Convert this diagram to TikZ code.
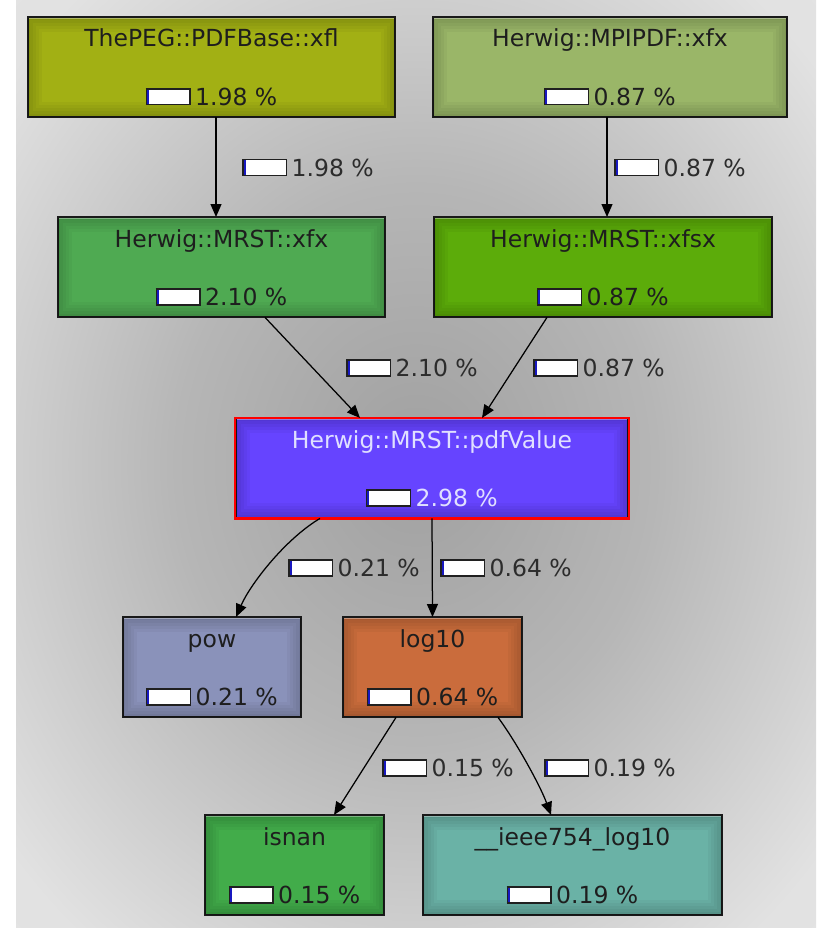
\documentclass[tikz,border=0pt]{standalone}
\usepackage{fontspec}
\setmainfont{DejaVu Sans}
\usetikzlibrary{arrows.meta}
\definecolor{bgin}{HTML}{A0A0A0}
\definecolor{bgmid}{HTML}{B6B6B6}
\definecolor{bgout}{HTML}{E2E2E2}
\definecolor{bgfar}{HTML}{E6E6E6}
\definecolor{barline}{HTML}{202020}
\definecolor{barblue}{HTML}{1818C0}
\definecolor{txt}{HTML}{1E1E1E}
\definecolor{ltxt}{HTML}{2C2C2C}
\definecolor{cxfl}{HTML}{A2B014}
\definecolor{cmpi}{HTML}{9AB668}
\definecolor{cmxfx}{HTML}{4FAA52}
\definecolor{cxfsx}{HTML}{5CAC0A}
\definecolor{cpdf}{HTML}{6644FF}
\definecolor{cpow}{HTML}{8A92BA}
\definecolor{clog}{HTML}{CA6C3C}
\definecolor{cisnan}{HTML}{42AC4A}
\definecolor{cieee}{HTML}{6AB2A6}
\pgfdeclareradialshading{bgshade}{\pgfpoint{0bp}{0bp}}{color(0bp)=(bgin); color(15bp)=(bgmid); color(33bp)=(bgout); color(50bp)=(bgfar)}
\newcommand\pbar{\raisebox{1.3pt}{\setlength\fboxsep{0pt}\setlength\fboxrule{1.3pt}\fcolorbox{barline}{white}{\textcolor{barblue}{\rule{2pt}{14.5pt}}\hspace{40.4pt}}}}
\tikzset{
  fbox/.style={rectangle, draw=black!90, line width=1.4pt, minimum height=99pt, inner sep=0pt},
  ftext/.style={inner sep=0pt, font=\fontsize{23.5}{28}\selectfont, text height=17pt, text depth=5pt, text=txt},
  ltext/.style={ftext, anchor=west, text=ltxt},
  edge/.style={draw=black, line width=1.25pt, -{Triangle[length=13pt,width=11pt]}}
}
% #1 name, #2 cx, #3 top, #4 width, #5 fill, #6 text color, #7 title, #8 pct, #9 border
\newcommand\fnode[9]{%
  \node[fbox, fill=#5, minimum width=#4pt, anchor=north] (#1) at (#2,#3) {};
  \begin{scope}
    \clip (#1.north west) rectangle (#1.south east);
    \foreach \w in {6,12,18,24,30}
      \draw[black, opacity=0.035, line width=\w pt] (#1.north west) rectangle (#1.south east);
    \draw[white, line width=1pt, opacity=0.35]
      ([xshift=1.5pt,yshift=-1.5pt]#1.north west) -- ([xshift=-1.5pt,yshift=-1.5pt]#1.north east);
  \end{scope}
  \draw[#9] (#1.north west) rectangle (#1.south east);
  \node[ftext, text=#6] (#1-t) at (#2,#3+24) {#7};
  \node[ftext, text=#6] (#1-p) at (#2,#3+82.5) {\pbar\hspace{4.5pt}#8 \%};
}
\begin{document}
\begin{tikzpicture}[x=1pt,y=-1pt]
\useasboundingbox (0,0) rectangle (816,928);
\fill[white] (0,0) rectangle (816,928);
\shade[shading=bgshade] (16,0) rectangle (816,928);

\fnode{xfl}{211.5}{17}{367}{cxfl}{txt}{ThePEG::PDFBase::xfl}{1.98}{black!90, line width=1.4pt}
\fnode{mpi}{610}{17}{354}{cmpi}{txt}{Herwig::MPIPDF::xfx}{0.87}{black!90, line width=1.4pt}
\fnode{mxfx}{221.5}{217}{327}{cmxfx}{txt}{Herwig::MRST::xfx}{2.10}{black!90, line width=1.4pt}
\fnode{xfsx}{603}{217}{338}{cxfsx}{txt}{Herwig::MRST::xfsx}{0.87}{black!90, line width=1.4pt}
\fnode{pdf}{432}{418}{392}{cpdf}{white!88!blue}{Herwig::MRST::pdfValue}{2.98}{red, line width=2.2pt}
\fnode{pow}{212}{617}{178}{cpow}{txt}{pow}{0.21}{black!90, line width=1.4pt}
\fnode{log}{432.5}{617}{179}{clog}{txt}{log10}{0.64}{black!90, line width=1.4pt}
\fnode{isnan}{294.5}{815}{179}{cisnan}{txt}{isnan}{0.15}{black!90, line width=1.4pt}
\fnode{ieee}{572.5}{815}{299}{cieee}{txt}{\_\_ieee754\_log10}{0.19}{black!90, line width=1.4pt}

\draw[edge] ([xshift=4.5pt]xfl.south) -- ([xshift=-5.5pt]mxfx.north);
\draw[edge] ([xshift=-3pt]mpi.south) -- ([xshift=4pt]xfsx.north);
\draw[edge] ([xshift=43.5pt]mxfx.south) -- ([xshift=-72pt]pdf.north);
\draw[edge] ([xshift=-56pt]xfsx.south) -- ([xshift=50pt]pdf.north);
\draw[edge] ([xshift=-112pt]pdf.south) .. controls (284,540) and (250,585) .. ([xshift=24pt]pow.north);
\draw[edge] (pdf.south) -- (log.north);
\draw[edge] ([xshift=-36.5pt]log.south) -- ([xshift=39.5pt]isnan.north);
\draw[edge] ([xshift=65.5pt]log.south) .. controls (515,740) and (540,785) .. ([xshift=-21.5pt]ieee.north);

\node[ltext] (l1) at (242,170) {\pbar\hspace{4.5pt}1.98 \%};
\node[ltext] (l2) at (614,170) {\pbar\hspace{4.5pt}0.87 \%};
\node[ltext] (l3) at (346,370.5) {\pbar\hspace{4.5pt}2.10 \%};
\node[ltext] (l4) at (533,370.5) {\pbar\hspace{4.5pt}0.87 \%};
\node[ltext] (l5) at (288,570.5) {\pbar\hspace{4.5pt}0.21 \%};
\node[ltext] (l6) at (440,570.5) {\pbar\hspace{4.5pt}0.64 \%};
\node[ltext] (l7) at (382,770.5) {\pbar\hspace{4.5pt}0.15 \%};
\node[ltext] (l8) at (544,770.5) {\pbar\hspace{4.5pt}0.19 \%};
\end{tikzpicture}
\end{document}
